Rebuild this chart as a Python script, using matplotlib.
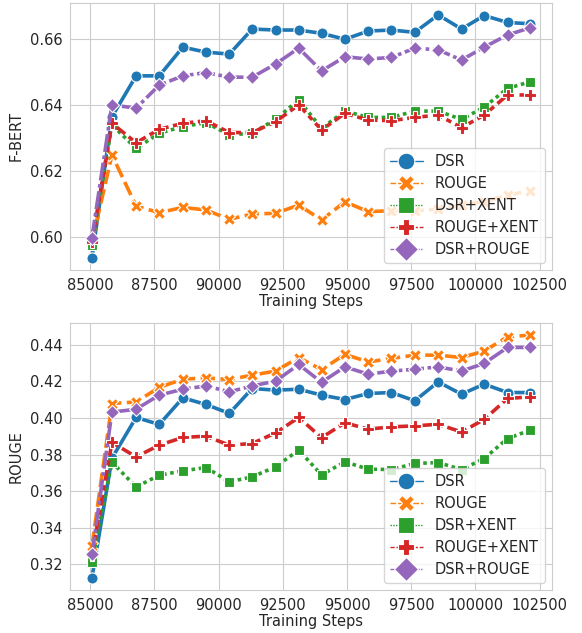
import matplotlib
matplotlib.use("Agg")
from matplotlib import pyplot as plt
from matplotlib.lines import Line2D
import seaborn as sns

# training steps
steps = [85070, 85850, 86790, 87690, 88610, 89510, 90420, 91310, 92220, 93120,
         94010, 94920, 95830, 96730, 97640, 98550, 99460, 100340, 101250, 102130]

series_names = ["DSR", "ROUGE", "DSR+XENT", "ROUGE+XENT", "DSR+ROUGE"]

# F-BERT scores
fbert_dsr = [0.5937, 0.6365, 0.6489, 0.6489, 0.6576, 0.6561, 0.6555, 0.6631, 0.6628, 0.6628,
             0.6618, 0.6600, 0.6625, 0.6628, 0.6621, 0.6674, 0.6631, 0.6672, 0.6651, 0.6647]
fbert_rouge = [0.5985, 0.6249, 0.6094, 0.6074, 0.6090, 0.6082, 0.6054, 0.6070, 0.6072, 0.6097,
               0.6052, 0.6107, 0.6077, 0.6080, 0.6080, 0.6085, 0.6097, 0.6107, 0.6127, 0.6141]
fbert_dsr_xent = [0.5976, 0.6340, 0.6269, 0.6315, 0.6335, 0.6347, 0.6310, 0.6315, 0.6357, 0.6416,
                  0.6330, 0.6382, 0.6363, 0.6363, 0.6382, 0.6382, 0.6357, 0.6394, 0.6451, 0.6471]
fbert_rouge_xent = [0.5985, 0.6345, 0.6286, 0.6327, 0.6345, 0.6353, 0.6317, 0.6317, 0.6350, 0.6401,
                    0.6325, 0.6375, 0.6355, 0.6353, 0.6363, 0.6370, 0.6332, 0.6370, 0.6431, 0.6431]
fbert_dsr_rouge = [0.5998, 0.6401, 0.6391, 0.6461, 0.6489, 0.6499, 0.6485, 0.6485, 0.6525, 0.6573,
                   0.6504, 0.6547, 0.6540, 0.6545, 0.6573, 0.6568, 0.6537, 0.6576, 0.6613, 0.6635]

# ROUGE scores
rouge_dsr = [0.3127, 0.3780, 0.4002, 0.3964, 0.4109, 0.4073, 0.4024, 0.4160, 0.4151, 0.4156,
             0.4124, 0.4100, 0.4133, 0.4138, 0.4093, 0.4196, 0.4129, 0.4184, 0.4138, 0.4138]
rouge_rouge = [0.3300, 0.4078, 0.4087, 0.4166, 0.4211, 0.4218, 0.4209, 0.4233, 0.4255, 0.4329,
               0.4263, 0.4346, 0.4305, 0.4324, 0.4342, 0.4342, 0.4329, 0.4364, 0.4442, 0.4451]
rouge_dsr_xent = [0.3214, 0.3758, 0.3623, 0.3687, 0.3711, 0.3729, 0.3651, 0.3678, 0.3733, 0.3824,
                  0.3689, 0.3760, 0.3720, 0.3718, 0.3751, 0.3756, 0.3718, 0.3778, 0.3887, 0.3933]
rouge_rouge_xent = [0.3250, 0.3866, 0.3787, 0.3851, 0.3893, 0.3900, 0.3851, 0.3860, 0.3918, 0.4002,
                    0.3892, 0.3973, 0.3938, 0.3951, 0.3956, 0.3965, 0.3923, 0.3991, 0.4106, 0.4114]
rouge_dsr_rouge = [0.3255, 0.4031, 0.4047, 0.4124, 0.4156, 0.4174, 0.4142, 0.4174, 0.4200, 0.4291,
                   0.4194, 0.4278, 0.4238, 0.4255, 0.4265, 0.4278, 0.4255, 0.4297, 0.4384, 0.4384]

sns.set_style("whitegrid")
plt.rcParams['font.family'] = ['DejaVu Sans']

colors = ["#1f77b4", "#ff7f0e", "#2ca02c", "#d62728", "#9467bd"]
markers = ["o", "X", "s", "P", "D"]
dashes = [None, (4, 1.5), (1, 1), (3, 1.25, 1.5, 1.25), (5, 1, 1, 1)]
msizes = [8, 8.5, 7.5, 8.5, 7.5]

fig = plt.figure(figsize=(5.82, 6.33), dpi=100)
ax1 = fig.add_axes([0.1203, 0.5735, 0.8282, 0.4222])
ax2 = fig.add_axes([0.1203, 0.0679, 0.8282, 0.4218])

panels = [
    (ax1, "F-BERT", [fbert_dsr, fbert_rouge, fbert_dsr_xent, fbert_rouge_xent, fbert_dsr_rouge]),
    (ax2, "ROUGE", [rouge_dsr, rouge_rouge, rouge_dsr_xent, rouge_rouge_xent, rouge_dsr_rouge]),
]

for ax, ylabel, data in panels:
    for i, vals in enumerate(data):
        line, = ax.plot(steps, vals, color=colors[i], lw=2.6, marker=markers[i],
                        markersize=msizes[i], markeredgecolor="white", markeredgewidth=0.8)
        if dashes[i] is not None:
            line.set_dashes(dashes[i])
    ax.set_xticks([85000, 87500, 90000, 92500, 95000, 97500, 100000, 102500])
    ax.set_xlabel("Training Steps", fontsize=10.5, color=".15", labelpad=1)
    ax.set_ylabel(ylabel, fontsize=10.5, color=".15")
    ax.tick_params(labelsize=10.5, colors=".15", pad=2)

    handles = []
    for i in range(5):
        h = Line2D([], [], color=colors[i], lw=1.0, marker=markers[i], markersize=12,
                   markeredgecolor="white", markeredgewidth=0.8)
        if dashes[i] is not None:
            h.set_dashes(dashes[i])
        handles.append(h)
    leg = ax.legend(handles, series_names, loc="lower right", fontsize=10.5,
                    handlelength=2.3, borderaxespad=0.5, labelspacing=0.48)
    for t in leg.get_texts():
        t.set_color(".15")

ax1.set_yticks([0.60, 0.62, 0.64, 0.66])
ax2.set_yticks([0.32, 0.34, 0.36, 0.38, 0.40, 0.42, 0.44])

fig.savefig("out.png", dpi=100)
